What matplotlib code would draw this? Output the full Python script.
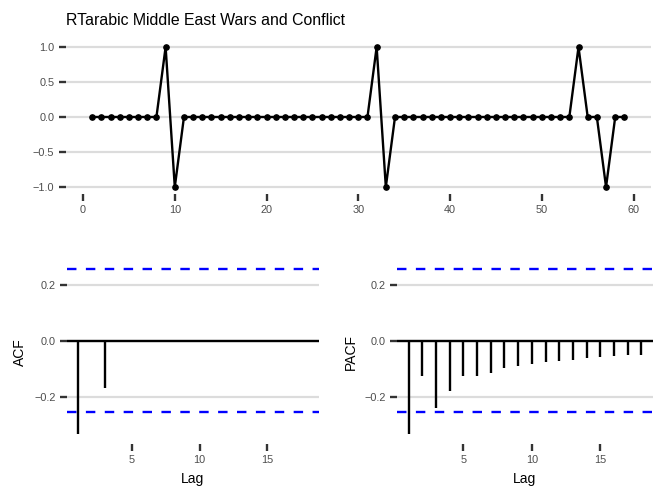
import numpy as np
import matplotlib
matplotlib.use("Agg")
import matplotlib.pyplot as plt

plt.rcParams['font.family'] = ['Liberation Sans', 'DejaVu Sans']

# series (t = 1..59)
t = list(range(1, 60))
y = [0, 0, 0, 0, 0, 0, 0, 0, 1, -1,
     0, 0, 0, 0, 0, 0, 0, 0, 0, 0,
     0, 0, 0, 0, 0, 0, 0, 0, 0, 0,
     0, 1, -1, 0, 0, 0, 0, 0, 0, 0,
     0, 0, 0, 0, 0, 0, 0, 0, 0, 0,
     0, 0, 0, 1, 0, 0, -1, 0, 0]

lags = list(range(1, 19))
acf = [-0.333, 0, -0.167, 0, 0, 0, 0, 0, 0, 0, 0, 0, 0, 0, 0, 0, 0, 0]
pacf = [-0.333, -0.125, -0.238, -0.179, -0.127, -0.127, -0.113, -0.098, -0.090,
        -0.083, -0.077, -0.071, -0.067, -0.061, -0.057, -0.054, -0.051, -0.049]
ci = 0.255

title = "RTarabic Middle East Wars and Conflict"

W, H = 664, 498
fig = plt.figure(figsize=(W / 100, H / 100), dpi=100)

GRID = '#dcdcdc'
TICKC = '#333333'
LABC = '#4d4d4d'


def box(x0, y0, x1, y1):
    # pixel box (top-left origin) -> figure fraction
    return [x0 / W, 1 - y1 / H, (x1 - x0) / W, (y1 - y0) / H]


def style(ax):
    for s in ax.spines.values():
        s.set_visible(False)
    ax.tick_params(length=5, width=1.7, color=TICKC, labelcolor=LABC,
                   labelsize=7.8, pad=3)
    ax.grid(axis='y', color=GRID, lw=1.6)
    ax.set_axisbelow(True)


# top: time series
ax = fig.add_axes(box(65.6, 40, 651, 194))
style(ax)
ax.plot(t, y, color='black', lw=1.7, marker='o', ms=3.8, zorder=3)
ax.set_xlim(-1.9, 61.9)
ax.set_ylim(-1.1, 1.1)
ax.set_xticks([0, 10, 20, 30, 40, 50, 60])
ax.set_yticks([-1.0, -0.5, 0.0, 0.5, 1.0])
ax.set_yticklabels(['\u22121.0', '\u22120.5', '0.0', '0.5', '1.0'])
ax.set_title(title, loc='left', fontsize=11.4, pad=11, color='black')


def corr_panel(ax, vals, label):
    style(ax)
    ax.axhline(0, color='black', lw=1.7, zorder=2)
    ax.vlines(lags, 0, vals, color='black', lw=1.7, zorder=3)
    ax.axhline(ci, color='blue', lw=1.7, ls=(0, (4, 4)), zorder=2)
    ax.axhline(-ci, color='blue', lw=1.7, ls=(0, (4, 4)), zorder=2)
    ax.set_xlim(0.15, 18.85)
    ax.set_ylim(-0.366, 0.285)
    ax.set_xticks([5, 10, 15])
    ax.set_yticks([-0.2, 0.0, 0.2])
    ax.set_yticklabels(['\u22120.2', '0.0', '0.2'])
    ax.set_xlabel('Lag', fontsize=10, labelpad=5)
    ax.set_ylabel(label, fontsize=10, labelpad=5)


ax1 = fig.add_axes(box(66.5, 261, 319, 443.5))
corr_panel(ax1, acf, 'ACF')
ax2 = fig.add_axes(box(397, 261, 653, 443.5))
corr_panel(ax2, pacf, 'PACF')

fig.savefig('out.png', dpi=100)
